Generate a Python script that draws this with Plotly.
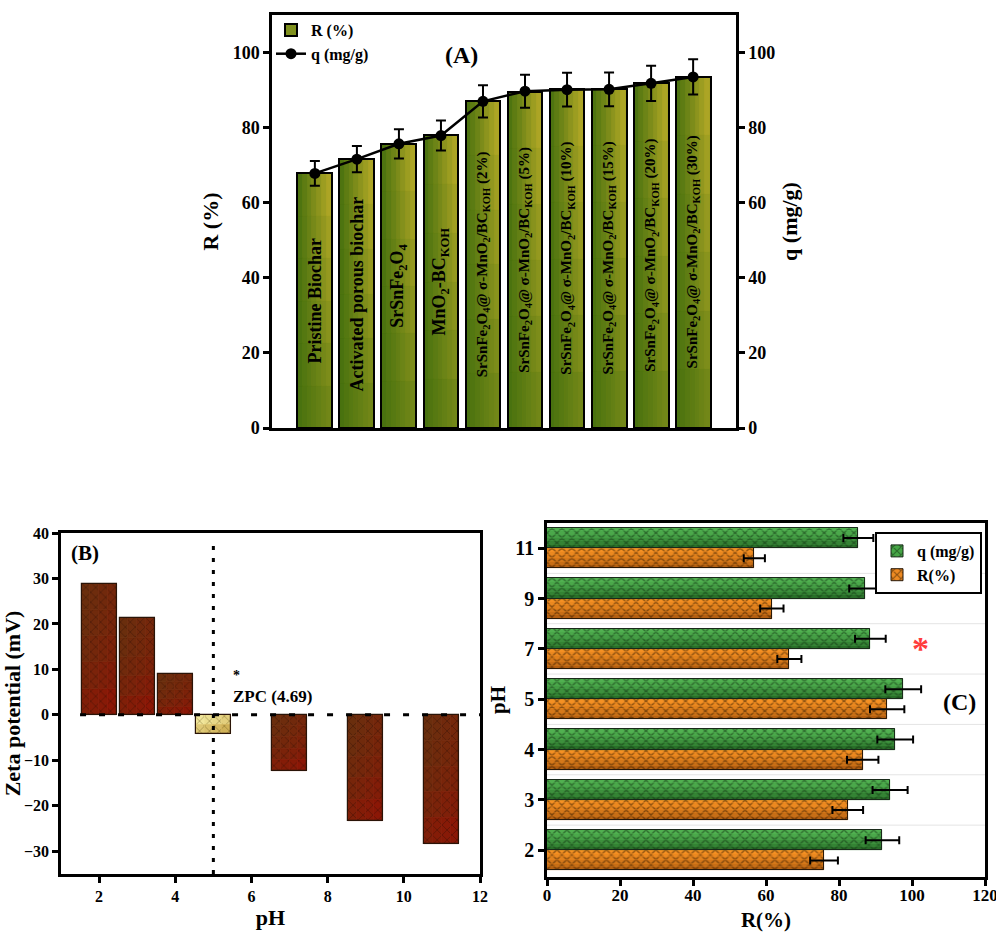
import plotly.graph_objects as go

# ---------------- Panel (A): removal efficiency / capacity per material ----------------
materials = [
    "Pristine Biochar",
    "Activated porous biochar",
    "SrSnFe<sub>2</sub>O<sub>4</sub>",
    "MnO<sub>2</sub>-BC<sub>KOH</sub>",
    "SrSnFe<sub>2</sub>O<sub>4</sub>@ σ-MnO<sub>2</sub>/BC<sub>KOH</sub> (2%)",
    "SrSnFe<sub>2</sub>O<sub>4</sub>@ σ-MnO<sub>2</sub>/BC<sub>KOH</sub> (5%)",
    "SrSnFe<sub>2</sub>O<sub>4</sub>@ σ-MnO<sub>2</sub>/BC<sub>KOH</sub> (10%)",
    "SrSnFe<sub>2</sub>O<sub>4</sub>@ σ-MnO<sub>2</sub>/BC<sub>KOH</sub> (15%)",
    "SrSnFe<sub>2</sub>O<sub>4</sub>@ σ-MnO<sub>2</sub>/BC<sub>KOH</sub> (20%)",
    "SrSnFe<sub>2</sub>O<sub>4</sub>@ σ-MnO<sub>2</sub>/BC<sub>KOH</sub> (30%)",
]
removal_pct = [67.8, 71.6, 75.7, 78.0, 87.2, 89.6, 90.2, 90.3, 91.8, 93.6]
capacity_q = [67.8, 71.6, 75.7, 77.9, 87.0, 89.7, 90.1, 90.2, 91.8, 93.5]
capacity_err = [3.3, 3.5, 3.9, 4.0, 4.3, 4.4, 4.5, 4.5, 4.7, 4.7]
a_ticks = [0, 20, 40, 60, 80, 100]

# ---------------- Panel (B): zeta potential vs pH ----------------
zeta_ph = [2, 3, 4, 5, 7, 9, 11]
zeta_mv = [28.8, 21.2, 9.0, -4.3, -12.4, -23.3, -28.4]
zeta_is_zpc = [False, False, False, True, False, False, False]
zpc_line_ph = 5.0
b_xticks = [2, 4, 6, 8, 10, 12]
b_yticks = [-30, -20, -10, 0, 10, 20, 30, 40]

# ---------------- Panel (C): effect of pH ----------------
ph_levels = ["2", "3", "4", "5", "7", "9", "11"]
q_mg_g = [91.9, 94.0, 95.4, 97.6, 88.6, 87.0, 85.3]
q_err = [4.6, 4.8, 4.9, 4.9, 4.2, 4.2, 4.1]
r_pct = [75.9, 82.4, 86.5, 93.2, 66.4, 61.6, 56.8]
r_err = [3.8, 4.2, 4.3, 4.7, 3.3, 3.2, 2.9]
c_xticks = [0, 20, 40, 60, 80, 100, 120]

SERIF = "Liberation Serif, Times New Roman, serif"


def font(size, color="black", bold=True):
    return dict(family=SERIF, size=size, color=color, weight="bold" if bold else "normal")


def mix(c0, c1, t):
    t = max(0.0, min(1.0, t))
    return "rgb(%d,%d,%d)" % tuple(round(a + (b - a) * t) for a, b in zip(c0, c1))


def gradient_bars(fig, pos, vals, width, nx, ny, c0, c1, tfun, xaxis, yaxis,
                  fg=None, psize=6, solidity=0.15):
    """Fill same-sign vertical bars with a two-colour gradient built from tiles.

    One colour per tile trace keeps the pattern foreground colour intact."""
    if not vals:
        return
    positive = vals[0] >= 0
    for i in range(nx):
        u = (i + 0.5) / nx
        for j in range(ny):
            seg = [v / ny for v in vals]
            base = [v * j / ny for v in vals]
            d = (1 - (j + 0.5) / ny) if positive else (j + 0.5) / ny
            col = mix(c0, c1, tfun(u, d))
            marker = dict(color=col, line=dict(color=col, width=0.8))
            if fg is not None:
                marker["pattern"] = dict(shape="x", fgcolor=fg, size=psize,
                                         solidity=solidity, fillmode="overlay")
            fig.add_trace(go.Bar(
                x=pos, y=seg, base=base, offset=-width / 2 + i * width / nx,
                width=width / nx, marker=marker, xaxis=xaxis, yaxis=yaxis,
                showlegend=False, hoverinfo="skip"))


def shaded_hbars(fig, cats, vals, offset, width, n, dark, light, fg, xaxis, yaxis):
    """Horizontal bars shaded from a dark lower edge to a light upper edge."""
    for k in range(n):
        t = ((k + 0.5) / n) ** 0.6
        col = mix(dark, light, t)
        fig.add_trace(go.Bar(
            y=cats, x=vals, orientation="h", offset=offset + k * width / n,
            width=width / n,
            marker=dict(color=col, line=dict(color=col, width=0.6),
                        pattern=dict(shape="x", fgcolor=fg, size=7, solidity=0.38,
                                     fillmode="overlay")),
            xaxis=xaxis, yaxis=yaxis, showlegend=False, hoverinfo="skip"))


fig = go.Figure()

# ---- Panel A bars ----
a_pos = list(range(len(materials)))
a_width = 0.83
fig.add_trace(go.Bar(
    x=a_pos, y=removal_pct, width=a_width, name="R (%)",
    marker=dict(color="rgb(128,145,30)", line=dict(color="black", width=2)),
    xaxis="x", yaxis="y", legend="legend", hoverinfo="skip"))
gradient_bars(fig, a_pos, removal_pct, a_width - 0.02, 7, 6,
              (70, 112, 14), (186, 172, 40),
              lambda u, d: u * (0.35 + 0.65 * (1 - d)), "x", "y")
fig.add_trace(go.Bar(
    x=a_pos, y=removal_pct, width=a_width, showlegend=False,
    marker=dict(color="rgba(0,0,0,0)", line=dict(color="black", width=2)),
    xaxis="x", yaxis="y", hoverinfo="skip"))

fig.add_trace(go.Scatter(
    x=a_pos, y=capacity_q, name="q (mg/g)", mode="lines+markers",
    line=dict(color="black", width=2.5),
    marker=dict(color="black", size=11, symbol="circle"),
    error_y=dict(type="data", array=capacity_err, color="black", thickness=2, width=5),
    xaxis="x", yaxis="y2", legend="legend"))

# ---- Panel B bars: brown/red for ordinary pH values, pale gold at the ZPC ----
b_width = 0.92
b_tint = lambda u, d: 0.35 * u + 0.65 * d * d
groups = [
    ([p for p, v, z in zip(zeta_ph, zeta_mv, zeta_is_zpc) if v >= 0 and not z],
     [v for v, z in zip(zeta_mv, zeta_is_zpc) if v >= 0 and not z],
     (104, 48, 14), (146, 18, 4), "#2a0e04", 5),
    ([p for p, v, z in zip(zeta_ph, zeta_mv, zeta_is_zpc) if v < 0 and not z],
     [v for v, z in zip(zeta_mv, zeta_is_zpc) if v < 0 and not z],
     (104, 48, 14), (146, 18, 4), "#2a0e04", 5),
    ([p for p, z in zip(zeta_ph, zeta_is_zpc) if z],
     [v for v, z in zip(zeta_mv, zeta_is_zpc) if z],
     (246, 238, 165), (190, 148, 50), "#5e4c12", 2),
]
for ph_sub, mv_sub, c0, c1, fg, ny in groups:
    gradient_bars(fig, ph_sub, mv_sub, b_width, 4, ny, c0, c1, b_tint, "x2", "y3",
                  fg=fg, psize=7, solidity=0.2)
fig.add_trace(go.Bar(
    x=zeta_ph, y=zeta_mv, width=b_width, showlegend=False,
    marker=dict(color="rgba(0,0,0,0)", line=dict(color="#2a1408", width=1.2)),
    xaxis="x2", yaxis="y3", hoverinfo="skip"))

# ---- Panel C bars (orange below, green above within each pH group) ----
fig.add_trace(go.Bar(
    y=ph_levels, x=r_pct, orientation="h", name="R(%)", offset=-0.4, width=0.4,
    marker=dict(color="#ee8a22", line=dict(color="#2a1a0a", width=1),
                pattern=dict(shape="x", fgcolor="#2e1800", size=7, solidity=0.38,
                             fillmode="overlay")),
    xaxis="x3", yaxis="y4", legend="legend2", legendrank=2, hoverinfo="skip"))
fig.add_trace(go.Bar(
    y=ph_levels, x=q_mg_g, orientation="h", name="q (mg/g)", offset=0.0, width=0.4,
    marker=dict(color="#46a646", line=dict(color="#1a2a1a", width=1),
                pattern=dict(shape="x", fgcolor="#0f2e0f", size=7, solidity=0.38,
                             fillmode="overlay")),
    xaxis="x3", yaxis="y4", legend="legend2", legendrank=1, hoverinfo="skip"))
shaded_hbars(fig, ph_levels, r_pct, -0.4, 0.4, 6, (160, 80, 12), (250, 148, 36),
             "#2e1800", "x3", "y4")
shaded_hbars(fig, ph_levels, q_mg_g, 0.0, 0.4, 6, (28, 92, 28), (84, 182, 84),
             "#0f2e0f", "x3", "y4")
fig.add_trace(go.Bar(
    y=ph_levels, x=r_pct, orientation="h", offset=-0.4, width=0.4, showlegend=False,
    marker=dict(color="rgba(0,0,0,0)", line=dict(color="#2a1a0a", width=1)),
    error_x=dict(type="data", array=r_err, color="black", thickness=2, width=4),
    xaxis="x3", yaxis="y4", hoverinfo="skip"))
fig.add_trace(go.Bar(
    y=ph_levels, x=q_mg_g, orientation="h", offset=0.0, width=0.4, showlegend=False,
    marker=dict(color="rgba(0,0,0,0)", line=dict(color="#1a2a1a", width=1)),
    error_x=dict(type="data", array=q_err, color="black", thickness=2, width=4),
    xaxis="x3", yaxis="y4", hoverinfo="skip"))

# ---- axes ----
frame = dict(showline=True, linecolor="black", linewidth=2.5, mirror=True,
             showgrid=False, zeroline=False, automargin=False,
             ticklabeloverflow="allow")
tick_out = dict(ticks="outside", ticklen=6, tickwidth=2.5, tickcolor="black")

A_X = [272 / 996, 736 / 996]
A_Y = [1 - 428 / 932, 1 - 15 / 932]
B_X = [61 / 996, 480 / 996]
B_Y = [1 - 874 / 932, 1 - 533 / 932]
C_X = [547 / 996, 985 / 996]
C_Y = [1 - 877 / 932, 1 - 523 / 932]

fig.update_layout(
    width=996, height=932,
    margin=dict(l=0, r=0, t=0, b=0, autoexpand=False),
    paper_bgcolor="white", plot_bgcolor="white",
    barmode="overlay", bargap=0,
    font=font(16),
    xaxis=dict(domain=A_X, anchor="y", range=[-1.02, len(materials) - 1 + 1.02],
               showticklabels=False, ticks="", **frame),
    yaxis=dict(domain=A_Y, anchor="x", range=[0, 110], tickvals=a_ticks,
               tickfont=font(18), title=dict(text="R (%)", font=font(22), standoff=8),
               **tick_out, **frame),
    yaxis2=dict(overlaying="y", side="right", anchor="x", range=[0, 110],
                tickvals=a_ticks, tickfont=font(18),
                title=dict(text="q (mg/g)", font=font(22), standoff=8),
                showline=True, linecolor="black", linewidth=2.5, showgrid=False,
                zeroline=False, automargin=False, **tick_out),
    xaxis2=dict(domain=B_X, anchor="y3", range=[1, 12], tickvals=b_xticks,
                tickfont=font(16), title=dict(text="pH", font=font(22), standoff=6),
                **tick_out, **frame),
    yaxis3=dict(domain=B_Y, anchor="x2", range=[-35, 40], tickvals=b_yticks,
                tickfont=font(16),
                title=dict(text="Zeta potential (mV)", font=font(22), standoff=4),
                **tick_out, **frame),
    xaxis3=dict(domain=C_X, anchor="y4", range=[0, 120], tickvals=c_xticks,
                tickfont=font(17), ticklabelstandoff=-5,
                title=dict(text="R(%)", font=font(21), standoff=20),
                **tick_out, **frame),
    yaxis4=dict(domain=C_Y, anchor="x3", type="category", categoryorder="array",
                categoryarray=ph_levels, range=[-0.53, len(ph_levels) - 0.5],
                tickfont=font(20), title=dict(text="pH", font=font(21), standoff=4),
                **tick_out, **frame),
    legend=dict(x=271 / 996, y=1 - 13 / 932, xanchor="left", yanchor="top",
                bgcolor="rgba(0,0,0,0)", font=font(16), tracegroupgap=0,
                itemwidth=30, traceorder="normal"),
    legend2=dict(x=982 / 996, y=C_Y[1] - 9 / 932, xanchor="right",
                 yanchor="top", bgcolor="white", bordercolor="black", borderwidth=2,
                 font=font(16), tracegroupgap=0, itemwidth=30),
)

# ---- reference lines ----
shapes = [
    dict(type="line", xref="x2", yref="y3", x0=1.5, x1=12, y0=0, y1=0,
         line=dict(color="black", width=3, dash="6px,13px")),
    dict(type="line", xref="x2", yref="y3", x0=zpc_line_ph, x1=zpc_line_ph,
         y0=-35, y1=37.6, line=dict(color="black", width=3, dash="4px,8px")),
]
for k in range(len(ph_levels) - 1):
    shapes.append(dict(type="line", xref="x3 domain", yref="y4", x0=0, x1=1,
                       y0=k + 0.5, y1=k + 0.5, layer="below",
                       line=dict(color="#e4e4e4", width=1)))
fig.update_layout(shapes=shapes)

# ---- annotations ----
ann = [
    dict(text="(A)", xref="paper", yref="paper", x=461 / 996, y=1 - 40 / 932,
         showarrow=False, font=font(24)),
    dict(text="(B)", xref="x2", yref="y3", x=1.2, y=35.5, xanchor="left",
         showarrow=False, font=font(21)),
    dict(text="*", xref="x2", yref="y3", x=5.45, y=8.6, xanchor="left",
         showarrow=False, font=font(14)),
    dict(text="ZPC (4.69)", xref="x2", yref="y3", x=5.45, y=4.0, xanchor="left",
         showarrow=False, font=font(17)),
    dict(text="*", xref="x3", yref="y4", x=102.2, y=ph_levels.index("7"),
         showarrow=False, font=font(34, color="#ff3c3c")),
    dict(text="(C)", xref="x3", yref="y4", x=112.9, y=ph_levels.index("5") - 0.06,
         showarrow=False, font=font(24)),
]
for i, label in enumerate(materials):
    ann.append(dict(text=label, xref="x", yref="y", x=a_pos[i], y=removal_pct[i] / 2,
                    textangle=-90, showarrow=False,
                    font=font(18 if i < 4 else 15)))
fig.update_layout(annotations=ann)

fig.write_html("out.html")
